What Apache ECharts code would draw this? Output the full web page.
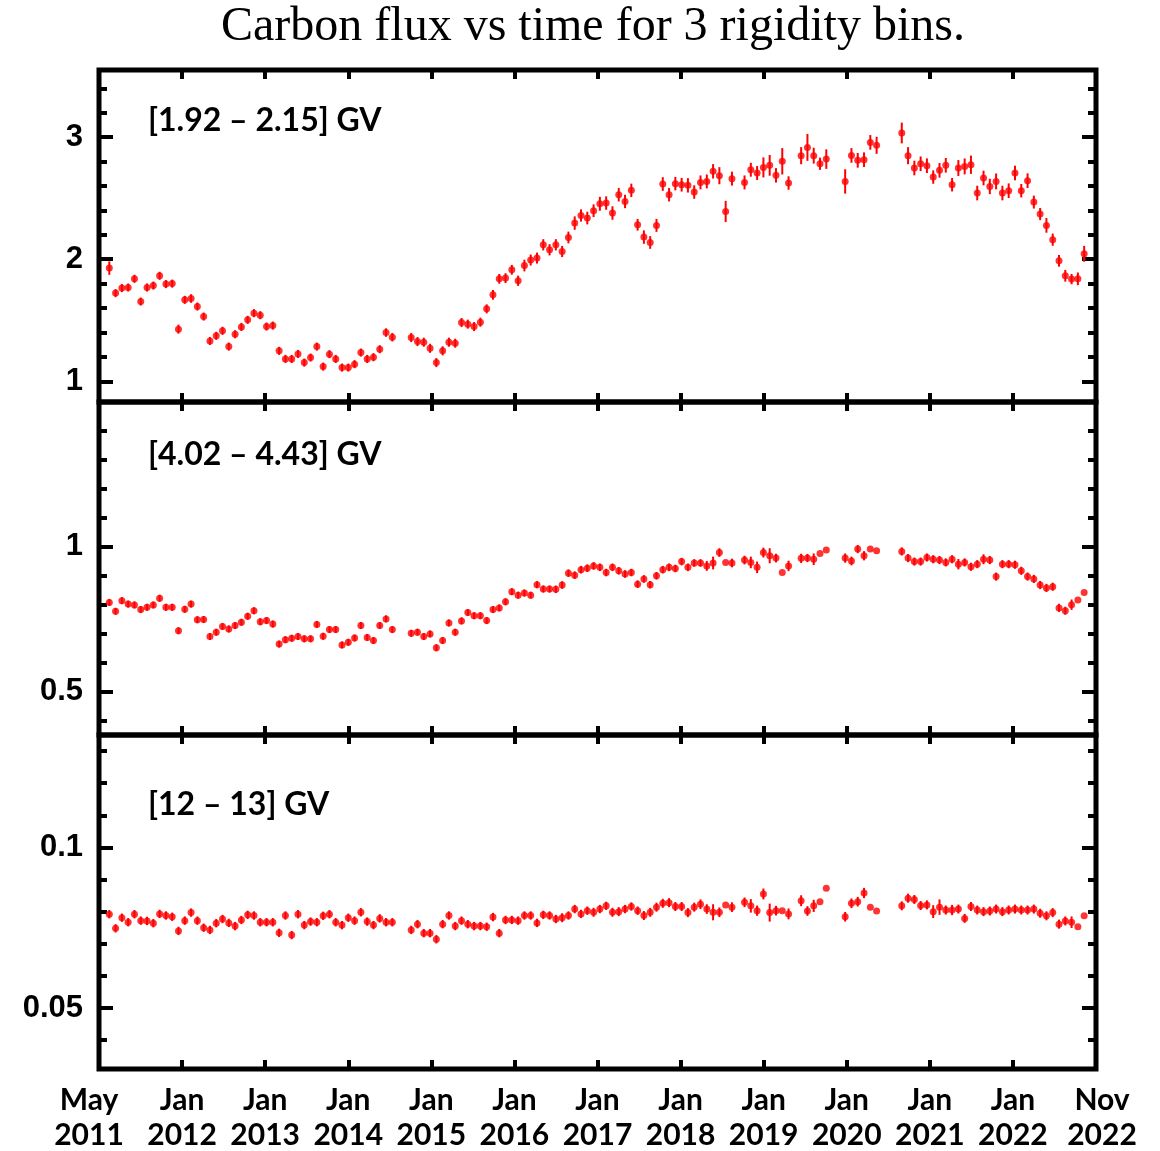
<!DOCTYPE html>
<html>
<head>
<meta charset="utf-8">
<script src="https://cdn.jsdelivr.net/npm/echarts@6/dist/echarts.min.js"></script>
<style>html,body{margin:0;padding:0;background:#fff;}#c{width:1160px;height:1151px;}</style>
</head>
<body>
<div id="c"></div>
<script>
// ---- data (one point per ~27-day rotation; null = no measurement) ----
const titleText = 'Carbon flux vs time for 3 rigidity bins.';
const binLabels = ['[1.92 \u2013 2.15] GV', '[4.02 \u2013 4.43] GV', '[12 \u2013 13] GV'];
const firstRotation = 2011.124;   // decimal year of first point on the axis
const rotationLength = 0.0757;    // axis spacing between successive points (years)

const fluxBin1 = [
1.927,1.722,1.763,1.768,1.839,1.653,1.768,1.784,1.864,1.796,
1.800,1.427,1.667,1.678,1.612,1.530,1.330,1.372,1.413,1.284,
1.385,1.445,1.503,1.558,1.541,1.448,1.456,1.249,1.183,1.183,
1.224,1.153,1.194,1.284,1.120,1.222,1.183,1.112,1.112,1.140,
1.235,1.183,1.197,1.262,1.399,1.361,null,null,
1.358,1.325,1.320,1.270,1.153,1.249,1.320,1.312,1.481,1.468,1.448,1.484,
1.593,1.708,1.839,1.845,1.913,1.823,1.948,1.993,2.009,2.118,
2.077,2.118,2.063,2.178,2.296,2.358,2.337,2.397,2.454,2.460,
2.378,2.528,2.473,2.564,2.282,2.181,2.137,2.277,2.616,2.528,
2.619,2.610,2.605,2.550,2.629,2.637,2.720,2.684,2.391,2.660,
null,2.629,2.733,2.706,2.752,2.769,2.687,2.802,2.624,
null,2.848,2.916,2.848,2.782,2.820,
null,null,2.637,2.850,2.810,2.815,2.957,2.933,
null,null,null,
3.034,2.848,2.747,2.782,2.766,2.673,2.728,2.769,2.610,2.747,
2.760,2.774,2.542,2.665,2.596,2.637,2.542,2.561,2.706,2.561,
2.643,2.468,2.370,2.277,2.160,1.987,1.864,1.837,1.839,2.044
];
const errBin1 = [
0.055,0.033,0.033,0.033,0.033,0.033,0.033,0.033,0.033,0.033,
0.033,0.037,0.033,0.035,0.033,0.033,0.033,0.033,0.033,0.033,
0.033,0.033,0.033,0.033,0.033,0.033,0.033,0.033,0.033,0.033,
0.033,0.033,0.033,0.033,0.033,0.033,0.033,0.033,0.033,0.033,
0.033,0.033,0.033,0.033,0.035,0.035,null,null,
0.037,0.037,0.037,0.037,0.037,0.037,0.037,0.037,0.037,0.037,0.037,0.037,
0.037,0.040,0.040,0.040,0.040,0.042,0.048,0.045,0.045,0.046,
0.046,0.046,0.046,0.048,0.055,0.050,0.052,0.052,0.057,0.055,
0.055,0.055,0.055,0.055,0.048,0.055,0.052,0.053,0.056,0.055,
0.055,0.056,0.059,0.055,0.057,0.057,0.059,0.070,0.087,0.057,
null,0.057,0.057,0.057,0.082,0.085,0.059,0.108,0.055,
null,0.070,0.110,0.065,0.050,0.080,
null,null,0.100,0.060,0.060,0.060,0.060,0.070,
null,null,null,
0.085,0.070,0.060,0.060,0.060,0.055,0.060,0.060,0.055,0.065,
0.065,0.075,0.060,0.060,0.063,0.065,0.060,0.060,0.060,0.055,
0.060,0.053,0.050,0.060,0.050,0.048,0.048,0.042,0.052,0.065
];
const fluxBin2 = [
0.808,0.777,0.814,0.802,0.799,0.783,0.791,0.799,0.822,0.791,
0.791,0.710,0.784,0.802,0.748,0.749,0.690,0.705,0.725,0.716,
0.728,0.739,0.760,0.779,0.741,0.745,0.733,0.664,0.679,0.684,
0.690,0.682,0.682,0.732,0.691,0.714,0.714,0.661,0.670,0.685,
0.728,0.687,0.676,0.728,0.751,0.714,null,null,
0.701,0.705,0.690,0.699,0.651,0.676,0.737,0.705,0.744,0.773,
0.762,0.762,0.745,0.783,0.789,0.810,0.845,0.833,0.840,0.833,
0.869,0.854,0.854,0.853,0.868,0.909,0.902,0.921,0.926,0.934,
0.929,0.911,0.929,0.917,0.906,0.911,0.871,0.889,0.869,0.900,
0.921,0.929,0.925,0.949,0.929,0.944,0.944,0.934,0.944,0.980,0.946,0.944,
null,0.954,0.946,0.929,0.980,0.969,0.961,0.911,0.934,
null,0.960,0.961,0.957,0.977,0.989,
null,null,0.961,0.951,0.992,0.969,0.992,0.986,
null,null,null,
0.984,0.961,0.949,0.949,0.963,0.957,0.954,0.946,0.957,0.940,
0.946,0.931,0.940,0.957,0.954,0.897,0.940,0.940,0.938,0.917,
0.897,0.889,0.868,0.858,0.862,0.789,0.779,0.800,0.816,0.842
];
const errBin2 = [
0.012,0.012,0.012,0.012,0.012,0.012,0.012,0.012,0.012,0.012,
0.012,0.012,0.012,0.012,0.012,0.012,0.012,0.012,0.012,0.012,
0.012,0.012,0.012,0.012,0.012,0.012,0.012,0.012,0.012,0.012,
0.012,0.012,0.012,0.012,0.012,0.012,0.012,0.012,0.012,0.012,
0.012,0.012,0.012,0.012,0.012,0.012,null,null,
0.012,0.012,0.012,0.012,0.012,0.012,0.012,0.012,0.012,0.012,
0.012,0.012,0.012,0.012,0.012,0.012,0.012,0.012,0.012,0.012,
0.012,0.012,0.012,0.013,0.013,0.013,0.013,0.013,0.013,0.013,
0.013,0.013,0.013,0.013,0.013,0.013,0.013,0.013,0.013,0.013,
0.013,0.013,0.013,0.013,0.013,0.013,0.013,0.017,0.022,0.015,
null,0.015,0.015,0.015,0.020,0.020,0.017,0.026,0.015,
null,0.018,0.027,0.016,0.014,0.020,
null,null,0.025,0.013,0.016,0.015,0.014,0.016,
null,null,null,
0.018,0.016,0.014,0.014,0.014,0.014,0.014,0.014,0.014,0.014,
0.014,0.018,0.014,0.014,0.014,0.017,0.014,0.014,0.014,0.014,
0.014,0.014,0.014,0.014,0.014,0.014,0.014,0.014,0.014,0.018
];
const fluxBin3 = [
0.0792,0.0748,0.0781,0.0767,0.0792,0.0772,0.0771,0.0764,0.0793,0.0788,
0.0784,0.0740,0.0772,0.0797,0.0772,0.0750,0.0743,0.0764,0.0777,0.0765,
0.0755,0.0774,0.0790,0.0788,0.0767,0.0767,0.0767,0.0734,0.0788,0.0727,
0.0792,0.0758,0.0769,0.0767,0.0787,0.0792,0.0767,0.0758,0.0781,0.0772,
0.0798,0.0769,0.0758,0.0779,0.0767,0.0767,null,null,
0.0743,0.0761,0.0733,0.0733,0.0714,0.0761,0.0788,0.0755,0.0772,0.0761,
0.0755,0.0755,0.0753,0.0783,0.0733,0.0774,0.0774,0.0772,0.0788,0.0788,
0.0765,0.0790,0.0788,0.0777,0.0781,0.0788,0.0808,0.0793,0.0803,0.0798,
0.0808,0.0818,0.0798,0.0800,0.0808,0.0816,0.0803,0.0788,0.0798,0.0814,
0.0826,0.0828,0.0816,0.0816,0.0797,0.0814,0.0823,0.0808,0.0798,0.0798,0.0821,0.0814,
null,0.0829,0.0818,0.0803,0.0855,0.0797,0.0803,0.0803,0.0793,
null,0.0834,0.0802,0.0818,0.0831,0.0873,
null,null,0.0784,0.0826,0.0831,0.0858,0.0814,0.0802,
null,null,null,
0.0818,0.0842,0.0838,0.0819,0.0821,0.0800,0.0814,0.0805,0.0805,0.0808,
0.0779,0.0816,0.0805,0.0800,0.0802,0.0808,0.0800,0.0805,0.0808,0.0805,
0.0805,0.0808,0.0795,0.0787,0.0797,0.0761,0.0771,0.0767,0.0753,0.0787
];
const errBin3 = [
0.0013,0.0013,0.0013,0.0013,0.0013,0.0013,0.0013,0.0013,0.0013,0.0013,
0.0013,0.0013,0.0013,0.0013,0.0013,0.0013,0.0013,0.0013,0.0013,0.0013,
0.0013,0.0013,0.0013,0.0013,0.0013,0.0013,0.0013,0.0013,0.0013,0.0013,
0.0013,0.0013,0.0013,0.0013,0.0013,0.0013,0.0013,0.0013,0.0013,0.0013,
0.0013,0.0013,0.0013,0.0013,0.0013,0.0013,null,null,
0.0013,0.0013,0.0013,0.0013,0.0013,0.0013,0.0013,0.0013,0.0013,0.0013,
0.0013,0.0013,0.0013,0.0013,0.0013,0.0013,0.0013,0.0013,0.0013,0.0013,
0.0013,0.0013,0.0013,0.0013,0.0014,0.0013,0.0013,0.0013,0.0013,0.0014,
0.0013,0.0013,0.0014,0.0014,0.0013,0.0013,0.0013,0.0014,0.0014,0.0014,
0.0014,0.0014,0.0014,0.0014,0.0014,0.0014,0.0015,0.0015,0.0025,0.0015,
null,0.0015,0.0015,0.0015,0.0021,0.0016,0.0017,0.0028,0.0015,
null,0.0017,0.0028,0.0017,0.0015,0.0019,
null,null,0.0023,0.0015,0.0015,0.0015,0.0015,0.0016,
null,null,null,
0.0018,0.0017,0.0014,0.0014,0.0014,0.0014,0.0014,0.0020,0.0024,0.0014,
0.0016,0.0014,0.0014,0.0014,0.0014,0.0014,0.0014,0.0014,0.0014,0.0014,
0.0014,0.0014,0.0014,0.0014,0.0014,0.0014,0.0014,0.0014,0.0014,0.0018
];

// ---- axes ----
const xMin = 2011, xMax = 2023;
const yearTicks = [2012,2013,2014,2015,2016,2017,2018,2019,2020,2021,2022];
const xLabelValues = [2011,2012,2013,2014,2015,2016,2017,2018,2019,2020,2021,2022,2023];
const xLabelText = ['May\n2011','Jan\n2012','Jan\n2013','Jan\n2014','Jan\n2015','Jan\n2016','Jan\n2017','Jan\n2018','Jan\n2019','Jan\n2020','Jan\n2021','Jan\n2022','Nov\n2022'];
const yRanges = [[0.83, 3.55], [0.35, 1.5], [0.031, 0.135]];
const yMajor = [[1, 2, 3], [0.5, 1], [0.05, 0.1]];
const yMinor = [
  [1.2,1.4,1.6,1.8,2.2,2.4,2.6,2.8,3.2,3.4],
  [0.4,0.6,0.7,0.8,0.9,1.1,1.2,1.3,1.4],
  [0.04,0.06,0.07,0.08,0.09,0.11,0.12,0.13]
];
const panels = [[fluxBin1, errBin1], [fluxBin2, errBin2], [fluxBin3, errBin3]];

// ---- option ----
const RED = '#ff0000';
const gridTops = [70, 402, 735];
const gridHeights = [332, 333, 334];
const grids = gridTops.map((t, i) => ({
  left: 99, width: 997, top: t, height: gridHeights[i],
  show: true, borderColor: '#000', borderWidth: 5, backgroundColor: 'transparent',
  outerBoundsMode: 'none', containLabel: false
}));

const xAxes = [];
const yAxes = [];
const series = [];
const labelFont = { fontFamily: 'Lato', fontWeight: 'bold', fontSize: 30, lineHeight: 35, color: '#000' };

for (let g = 0; g < 3; g++) {
  ['bottom', 'top'].forEach(pos => {
    const isLabelAxis = (g === 2 && pos === 'bottom');
    xAxes.push({
      type: 'value', gridIndex: g, position: pos, min: xMin, max: xMax,
      axisLine: { show: false },
      splitLine: { show: false },
      axisTick: { show: true, inside: true, length: 9, customValues: yearTicks, lineStyle: { color: '#000', width: 4 } },
      axisLabel: isLabelAxis ? {
        show: true, margin: 14, customValues: xLabelValues,
        showMinLabel: true, showMaxLabel: true, hideOverlap: false,
        formatter: function (v) {
          const k = xLabelValues.indexOf(Math.round(v));
          const parts = xLabelText[k].split('\n');
          const tag = k === 0 ? 'f' : (k === xLabelValues.length - 1 ? 'l' : 'm');
          return parts.map(p => '{' + tag + '|' + p + '}').join('\n');
        },
        rich: {
          f: Object.assign({}, labelFont, { padding: [0, 20, 0, 0] }),
          m: Object.assign({}, labelFont),
          l: Object.assign({}, labelFont, { padding: [0, 0, 0, 12] })
        }
      } : { show: false }
    });
  });
  const [ymin, ymax] = yRanges[g];
  const mk = (pos, values, len, withLabel) => ({
    type: 'value', gridIndex: g, position: pos, min: ymin, max: ymax,
    axisLine: { show: false }, splitLine: { show: false },
    axisTick: { show: true, inside: true, length: len, customValues: values, lineStyle: { color: '#000', width: 4 } },
    axisLabel: withLabel ? {
      show: true, customValues: values, margin: 16, showMinLabel: true, showMaxLabel: true,
      fontFamily: 'Liberation Sans', fontWeight: 'bold', fontSize: 31, color: '#000'
    } : { show: false }
  });
  yAxes.push(mk('left', yMajor[g], 14, true));
  yAxes.push(mk('left', yMinor[g], 8, false));
  yAxes.push(mk('right', yMajor[g], 14, false));
  yAxes.push(mk('right', yMinor[g], 8, false));

  const [vals, errs] = panels[g];
  const pts = [];
  vals.forEach((v, i) => { if (v !== null) pts.push([firstRotation + rotationLength * i, v, errs[i]]); });
  series.push({
    type: 'custom', xAxisIndex: g * 2, yAxisIndex: g * 4, data: pts, z: 3,
    encode: { x: 0, y: 1 },
    renderItem: function (params, api) {
      const x = api.value(0), y = api.value(1), e = api.value(2);
      const p1 = api.coord([x, y - e]);
      const p2 = api.coord([x, y + e]);
      return { type: 'line', shape: { x1: p1[0], y1: p1[1], x2: p2[0], y2: p2[1] },
               style: { stroke: RED, lineWidth: 2 } };
    },
    silent: true
  });
  series.push({
    type: 'scatter', xAxisIndex: g * 2, yAxisIndex: g * 4,
    data: pts.map(p => [p[0], p[1]]), symbol: 'circle', symbolSize: 7,
    itemStyle: { color: RED }, z: 4, silent: true
  });
}

const labelYs = [121, 455, 805];
const graphics = [{
  type: 'text', x: 593, y: 27,
  style: { text: titleText, textAlign: 'center', textVerticalAlign: 'middle',
           fontFamily: 'Liberation Serif', fontSize: 48, fill: '#000' }
}];
binLabels.forEach((t, i) => graphics.push({
  type: 'text', x: 148, y: labelYs[i],
  style: { text: t, textAlign: 'left', textVerticalAlign: 'middle',
           fontFamily: 'Lato', fontWeight: 'bold', fontSize: 32, fill: '#000' }
}));

const chart = echarts.init(document.getElementById('c'), null, { renderer: 'canvas' });
chart.setOption({
  animation: false,
  backgroundColor: '#fff',
  grid: grids,
  xAxis: xAxes,
  yAxis: yAxes,
  series: series,
  graphic: graphics
});
</script>
</body>
</html>
